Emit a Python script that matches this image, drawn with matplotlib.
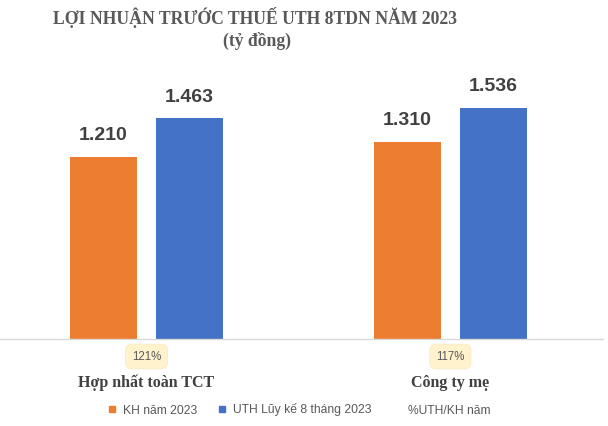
import matplotlib.pyplot as plt
from matplotlib.lines import Line2D

# --- Data ---
categories = ["Hợp nhất toàn TCT", "Công ty mẹ"]
plan_2023 = [1210, 1310]          # KH năm 2023
actual_8m = [1463, 1536]          # UTH Lũy kế 8 tháng 2023
pct_labels = ["121%", "117%"]     # %UTH/KH năm
value_labels_plan = ["1.210", "1.310"]
value_labels_actual = ["1.463", "1.536"]

orange = "#ED7D31"
blue = "#4472C4"
grey_text = "#404040"

# --- Figure ---
fig = plt.figure(figsize=(6.08, 4.26), dpi=100)
ax = fig.add_axes([0, 87.5 / 426, 603 / 608, 278.5 / 426])

x = list(range(len(categories)))
w = 0.22
off = 0.1414
ax.bar([i - off for i in x], plan_2023, width=w, color=orange)
ax.bar([i + off for i in x], actual_8m, width=w, color=blue)

ax.set_xlim(-0.482, 1.502)
ax.set_ylim(0, 1852)

for i in x:
    ax.annotate(value_labels_plan[i], (i - off, plan_2023[i]), xytext=(0, 9),
                textcoords="offset points", ha="center", va="bottom",
                fontsize=14, fontweight="bold", color=grey_text,
                family="Liberation Sans")
    ax.annotate(value_labels_actual[i], (i + off, actual_8m[i]), xytext=(0, 9),
                textcoords="offset points", ha="center", va="bottom",
                fontsize=14, fontweight="bold", color=grey_text,
                family="Liberation Sans")
    # percentage badge under the axis
    ax.annotate(pct_labels[i], (i, 0), xytext=(0, -13), textcoords="offset points",
                ha="center", va="center", fontsize=8.3, color="#595959",
                family="Liberation Sans",
                bbox=dict(boxstyle="round,pad=0.55", fc="#FFF2CC", ec="#FBEBC0", lw=0.6))
    # category label
    ax.annotate(categories[i], (i, 0), xytext=(0, -32), textcoords="offset points",
                ha="center", va="center", fontsize=11.5, fontweight="bold",
                color=grey_text, family="Liberation Serif")

# --- Axes style ---
for s in ["top", "right", "left"]:
    ax.spines[s].set_visible(False)
ax.spines["bottom"].set_color("#D9D9D9")
ax.spines["bottom"].set_linewidth(1.0)
ax.set_xticks([])
ax.set_yticks([])

# --- Title ---
fig.text(255 / 608, 1 - 18 / 426, "LỢI NHUẬN TRƯỚC THUẾ UTH 8TDN NĂM 2023",
         ha="center", va="center", fontsize=12.7, fontweight="bold",
         color="#595959", family="Liberation Serif")
fig.text(257 / 608, 1 - 41 / 426, "(tỷ đồng)",
         ha="center", va="center", fontsize=12.7, fontweight="bold",
         color="#595959", family="Liberation Serif")

# --- Legend ---
handles = [
    Line2D([], [], marker="s", ls="", color=orange, markersize=5),
    Line2D([], [], marker="s", ls="", color=blue, markersize=5),
    Line2D([], [], marker="s", ls="", color="none", markersize=5),
]
labels = ["KH năm 2023", "UTH Lũy kế 8 tháng 2023", "%UTH/KH năm"]
fig.legend(handles, labels, loc="center", bbox_to_anchor=(298 / 608, 1 - 410 / 426),
           ncol=3, frameon=False, prop={"family": "Liberation Sans", "size": 8.7},
           labelcolor="#595959", handletextpad=0.4, columnspacing=1.6,
           handlelength=1.0)

fig.savefig("out.png", dpi=100)
